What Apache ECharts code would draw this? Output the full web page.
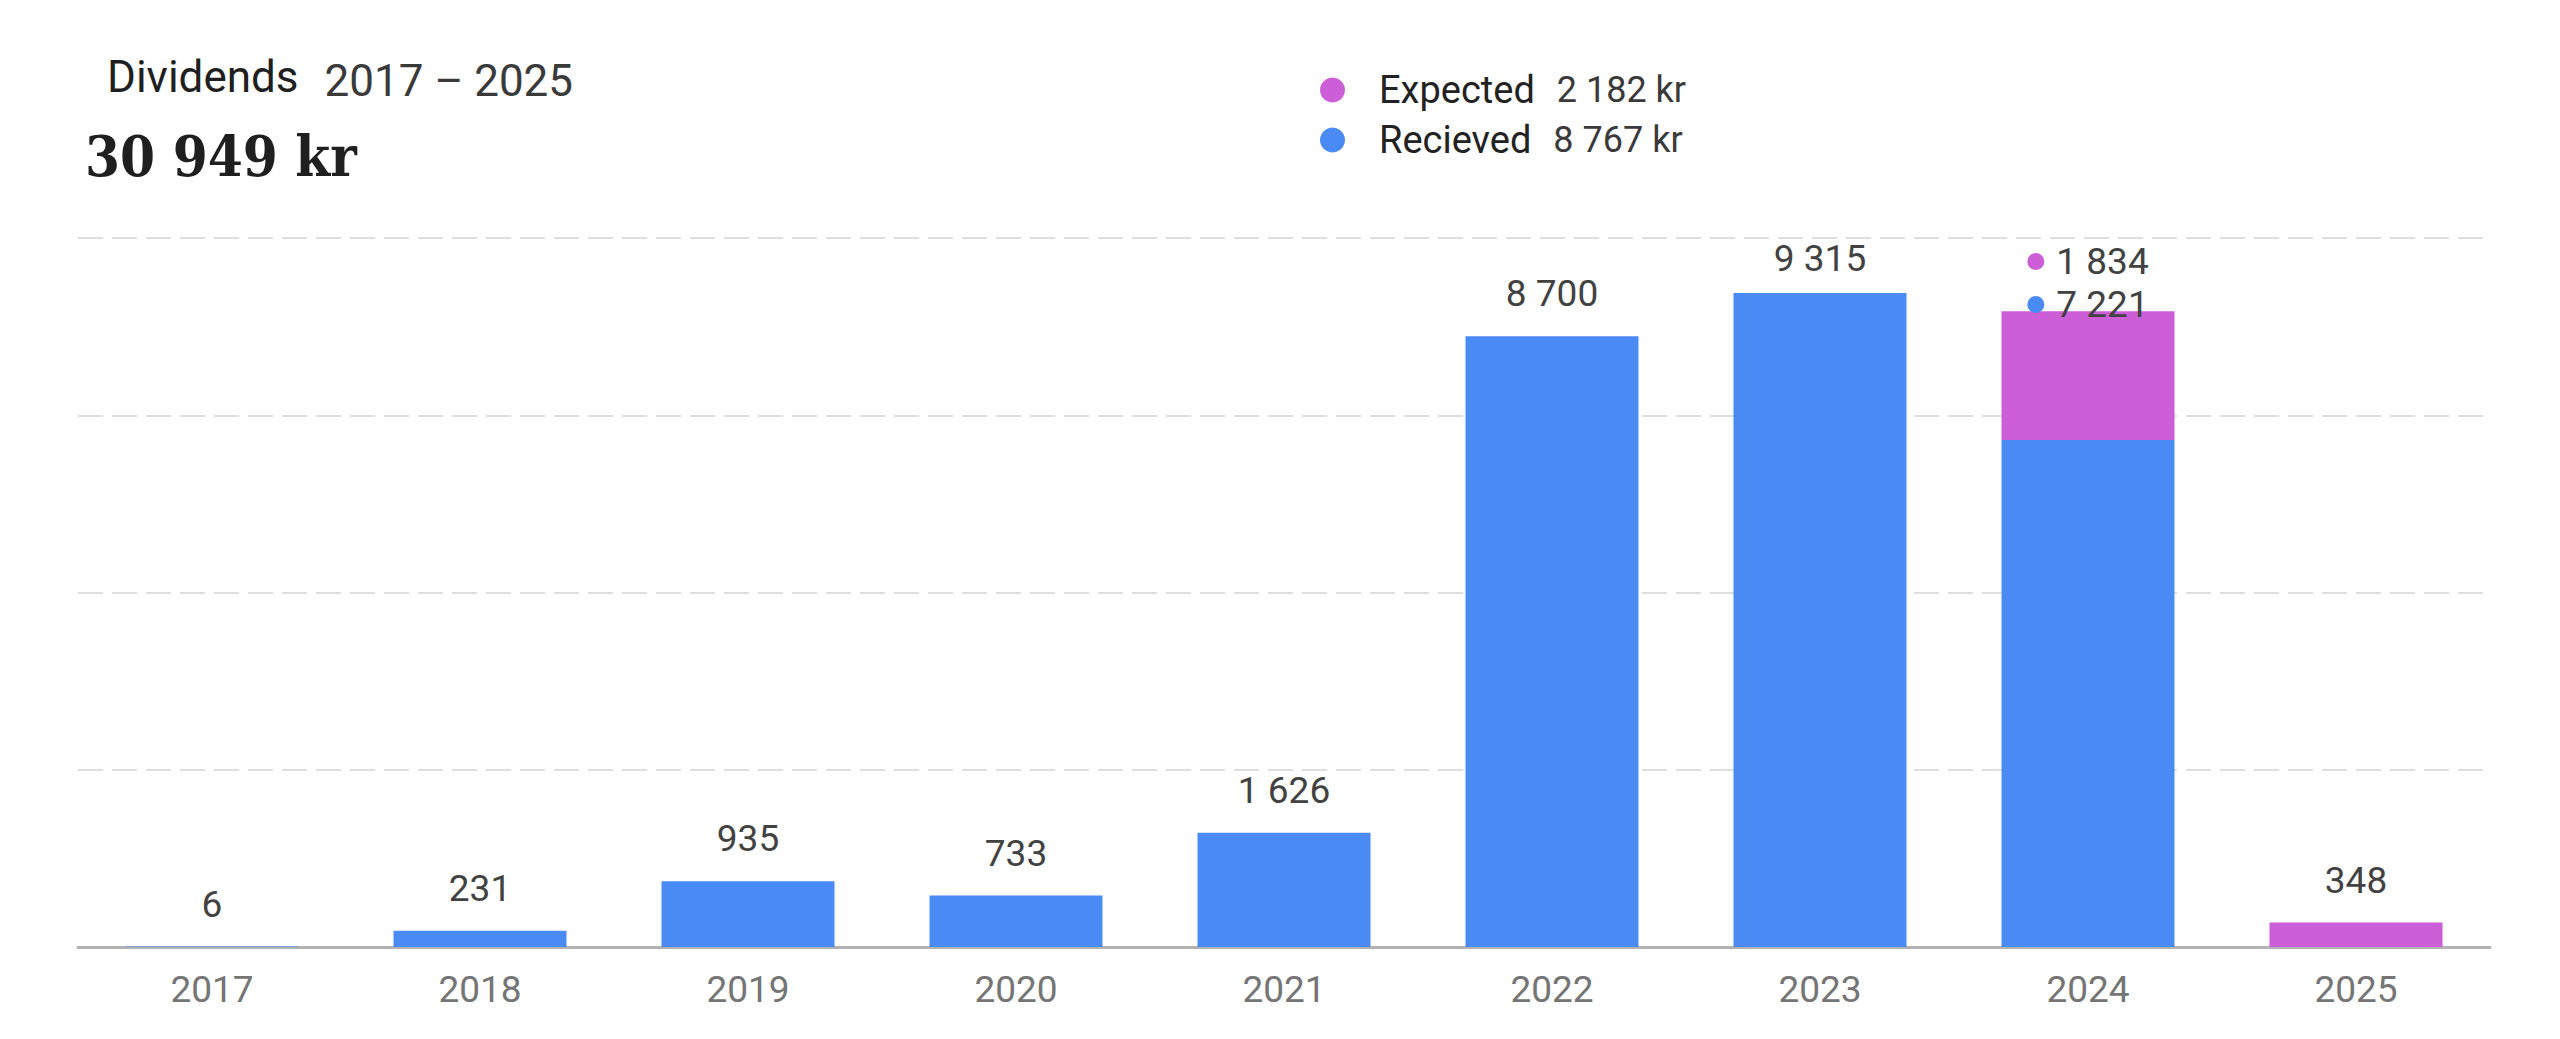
<!DOCTYPE html>
<html>
<head>
<meta charset="utf-8">
<script src="https://cdn.jsdelivr.net/npm/echarts@6/dist/echarts.min.js"></script>
<style>
html,body{margin:0;padding:0;background:#fff;}
#chart{width:2560px;height:1039px;}
</style>
</head>
<body>
<div id="chart"></div>
<script>
// ---- data ----
const categories = ['2017','2018','2019','2020','2021','2022','2023','2024','2025'];
const received = [6, 231, 935, 733, 1626, 8700, 9315, 7221, null];
const expected = [null, null, null, null, null, null, null, 1834, 348];
const seriesNames = ['Expected', 'Recieved'];
const legendValues = {'Expected': '2 182 kr', 'Recieved': '8 767 kr'};
const titleText = 'Dividends';
const periodText = '2017 – 2025';
const totalText = '30 949 kr';
const yMax = 10100;
const yInterval = 2525;

// ---- styling / layout ----
const BLUE = '#4a8af4';
const PURPLE = '#cc5fd8';
const GRID = {left: 78, right: 70, top: 238, bottom: 92};
const H = 1039;
const plotH = H - GRID.top - GRID.bottom;
const pxPerUnit = plotH / yMax;
const LABEL_FS = 37;
const LABEL_DIST = 24;
const LINE_H = 43;
const MIN_LABEL_TOP = GRID.top + 2;

const fmt = v => String(v).replace(/\B(?=(\d{3})+(?!\d))/g, ' ');

function labelDistance(total, lines) {
  const barTop = H - GRID.bottom - total * pxPerUnit;
  const boxH = lines * (lines > 1 ? LINE_H : LABEL_FS);
  const natTop = barTop - LABEL_DIST - boxH;
  if (natTop >= MIN_LABEL_TOP) return LABEL_DIST;
  return barTop - boxH - MIN_LABEL_TOP;
}

const recData = received.map((v, i) => {
  if (v == null) return null;
  const showHere = expected[i] == null;
  return {
    value: v,
    label: {show: showHere, distance: labelDistance(v, 1)}
  };
});

const expData = expected.map((v, i) => {
  if (v == null) return null;
  const r = received[i];
  if (r != null) {
    const total = r + v;
    return {
      value: v,
      label: {
        show: true,
        distance: labelDistance(total, 2),
        formatter: '{dp|}{s|}{v|' + fmt(v) + '}\n{db|}{s|}{v|' + fmt(r) + '}'
      }
    };
  }
  return {value: v, label: {show: true, distance: labelDistance(v, 1)}};
});

const richLabel = {
  dp: {width: 17, height: 17, borderRadius: 9, backgroundColor: PURPLE, lineHeight: LINE_H},
  db: {width: 17, height: 17, borderRadius: 9, backgroundColor: BLUE, lineHeight: LINE_H},
  s: {width: 12, lineHeight: LINE_H},
  v: {fontSize: LABEL_FS, color: '#424242', fontFamily: 'Roboto', lineHeight: LINE_H}
};

const baseLabel = {
  show: false,
  position: 'top',
  fontSize: LABEL_FS,
  fontFamily: 'Roboto',
  color: '#424242',
  formatter: p => fmt(p.value),
  rich: richLabel
};

const chart = echarts.init(document.getElementById('chart'), null, {renderer: 'svg'});
chart.setOption({
  animation: false,
  backgroundColor: '#ffffff',
  title: [
    {
      text: '{a|' + titleText + '}{b|' + periodText + '}',
      left: 102,
      top: 50,
      textStyle: {
        fontWeight: 'normal',
        rich: {
          a: {fontFamily: 'Roboto', fontWeight: 'normal', fontSize: 44, color: '#1f1f1f', padding: [0, 0, 7, 0]},
          b: {fontFamily: 'Roboto', fontWeight: 'normal', fontSize: 44, color: '#3a3a3a', padding: [0, 0, 0, 26]}
        }
      }
    },
    {
      text: totalText,
      left: 80,
      top: 123,
      textStyle: {
        fontFamily: "'DejaVu Serif Condensed', 'DejaVu Serif', serif",
        fontWeight: 'bold',
        fontSize: 56,
        color: '#1f1f1f'
      }
    }
  ],
  legend: {
    data: seriesNames,
    orient: 'vertical',
    left: 1315,
    top: 66,
    icon: 'circle',
    itemWidth: 25,
    itemHeight: 25,
    itemGap: 12,
    selectedMode: false,
    formatter: name => '{n|' + name + '}{v|' + legendValues[name] + '}',
    textStyle: {
      rich: {
        n: {fontFamily: 'Roboto', fontSize: 38, color: '#222222', padding: [0, 0, 0, 29], lineHeight: 42},
        v: {fontFamily: 'Roboto', fontSize: 36, color: '#3a3a3a', padding: [0, 0, 0, 22], lineHeight: 42}
      }
    }
  },
  grid: GRID,
  xAxis: {
    type: 'category',
    data: categories,
    axisTick: {show: false},
    axisLine: {lineStyle: {color: '#b3b3b3', width: 3}},
    axisLabel: {fontFamily: 'Roboto', fontSize: 37, color: '#757575', margin: 24}
  },
  yAxis: {
    type: 'value',
    min: 0,
    max: yMax,
    interval: yInterval,
    axisLabel: {show: false},
    axisLine: {show: false},
    axisTick: {show: false},
    splitLine: {lineStyle: {type: [25, 9], color: '#dedede', width: 2}}
  },
  series: [
    {
      name: 'Recieved',
      type: 'bar',
      stack: 'div',
      barWidth: 173,
      itemStyle: {color: BLUE},
      label: baseLabel,
      data: recData
    },
    {
      name: 'Expected',
      type: 'bar',
      stack: 'div',
      barWidth: 173,
      itemStyle: {color: PURPLE},
      label: baseLabel,
      data: expData
    }
  ]
});
</script>
</body>
</html>
